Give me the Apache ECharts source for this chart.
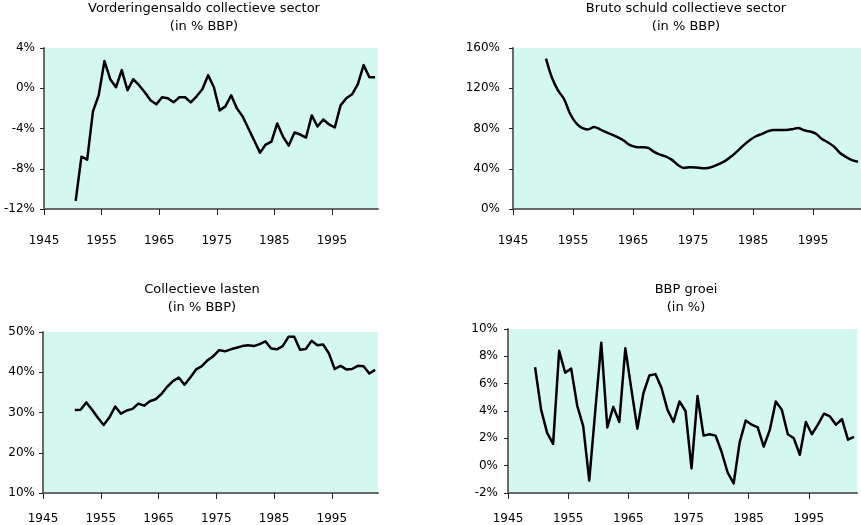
<!DOCTYPE html>
<html><head><meta charset="utf-8">
<script src="https://cdn.jsdelivr.net/npm/echarts@6/dist/echarts.min.js"></script>
<style>html,body{margin:0;padding:0;background:#fff}#c{width:861px;height:525px}</style>
</head><body><div id="c"></div>
<script>
// ---- data ----
const years1950 = [1950,1951,1952,1953,1954,1955,1956,1957,1958,1959,
  1960,1961,1962,1963,1964,1965,1966,1967,1968,1969,
  1970,1971,1972,1973,1974,1975,1976,1977,1978,1979,
  1980,1981,1982,1983,1984,1985,1986,1987,1988,1989,
  1990,1991,1992,1993,1994,1995,1996,1997,1998,1999,
  2000,2001,2002];
const years1949 = [1949,1950,1951,1952,1953,1954,1955,1956,1957,1958,1959,
  1960,1961,1962,1963,1964,1965,1966,1967,1968,1969,
  1970,1971,1972,1973,1974,1975,1976,1977,1978,1979,
  1980,1981,1982,1983,1984,1985,1986,1987,1988,1989,
  1990,1991,1992,1993,1994,1995,1996,1997,1998,1999,
  2000,2001,2002];
const xTickLabels = [1945,1955,1965,1975,1985,1995];

const vorderingensaldo = [-11.2,-6.8,-7.1,-2.3,-0.7,2.7,0.9,0.1,1.8,-0.2,
  0.9,0.3,-0.4,-1.2,-1.6,-0.9,-1.0,-1.4,-0.9,-0.9,
  -1.4,-0.8,-0.1,1.3,0.1,-2.2,-1.8,-0.7,-2.0,-2.8,
  -4.0,-5.2,-6.4,-5.6,-5.3,-3.5,-4.8,-5.7,-4.4,-4.6,
  -4.9,-2.7,-3.8,-3.1,-3.6,-3.9,-1.7,-1.0,-0.6,0.4,
  2.3,1.1,1.1];
const brutoSchuld = [149.5,130.4,117.8,109.3,94.9,85.4,80.6,79.1,81.4,79.2,
  76.4,74.0,71.2,67.8,63.4,61.7,61.4,60.8,56.7,54.1,
  52.1,48.8,43.7,40.8,41.5,41.3,40.6,40.8,42.6,45.1,
  48.3,52.8,58.0,63.7,68.6,72.3,74.7,77.3,78.5,78.5,
  78.5,79.2,80.6,78.2,77.0,74.8,69.6,66.1,62.0,55.7,
  51.7,48.6,47.0];
const collectieveLasten = [30.6,30.7,32.5,30.7,28.7,26.9,28.8,31.5,29.7,30.5,
  30.9,32.2,31.7,32.8,33.3,34.6,36.4,37.8,38.7,36.9,
  38.7,40.7,41.5,43.0,44.0,45.5,45.2,45.7,46.1,46.5,
  46.7,46.5,47.0,47.7,45.9,45.7,46.5,48.8,48.8,45.6,
  45.8,47.8,46.7,46.9,44.7,40.8,41.6,40.7,40.8,41.6,
  41.5,39.7,40.6];
const bbpGroei = [7.2,4.1,2.4,1.6,8.4,6.8,7.1,4.4,2.9,-1.1,
  4.0,9.0,2.8,4.3,3.2,8.6,5.6,2.7,5.3,6.6,
  6.7,5.7,4.1,3.2,4.7,4.0,-0.2,5.1,2.2,2.3,
  2.2,1.0,-0.5,-1.3,1.7,3.3,3.0,2.8,1.4,2.6,
  4.7,4.1,2.3,2.0,0.8,3.2,2.3,3.0,3.8,3.6,
  3.0,3.4,1.9,2.1];

const titles = [
  'Vorderingensaldo collectieve sector\n(in % BBP)',
  'Bruto schuld collectieve sector\n(in % BBP)',
  'Collectieve lasten\n(in % BBP)',
  'BBP groei\n(in %)'
];

// ---- layout / style ----
const FONT = 'DejaVu Sans';
const PLOT_BG = '#d4f8f0';
const AXIS_COLOR = '#6a6a6a';
const TICK_COLOR = '#222222';

function pairs(years, vals) { return years.map((y, i) => [y + 0.5, vals[i]]); }

const panels = [
  { grid: { left: 44, top: 48, width: 334, height: 161 }, y: [-12, 4, 4], data: pairs(years1950, vorderingensaldo), smooth: false, title: { x: 204, y: 0 }, yMargin: 9, xMargin: 26 },
  { grid: { left: 513, top: 48, width: 353, height: 161 }, y: [0, 160, 40], data: pairs(years1950, brutoSchuld), smooth: 0.35, title: { x: 686, y: 0 }, yMargin: 13, xMargin: 26 },
  { grid: { left: 43, top: 332, width: 335, height: 162 }, y: [10, 50, 10], data: pairs(years1950, collectieveLasten), smooth: false, title: { x: 202, y: 281 }, yMargin: 8, xMargin: 20 },
  { grid: { left: 508, top: 329, width: 349, height: 165 }, y: [-2, 10, 2], data: pairs(years1949, bbpGroei), smooth: false, title: { x: 686, y: 281 }, yMargin: 10, xMargin: 20 }
];

const option = {
  backgroundColor: '#ffffff',
  animation: false,
  title: panels.map((p, i) => ({
    text: titles[i], left: p.title.x, top: p.title.y, textAlign: 'center', padding: 0,
    textStyle: { fontFamily: FONT, fontSize: 13, fontWeight: 'normal', color: '#000', lineHeight: 18 }
  })),
  grid: panels.map(p => Object.assign({ show: true, backgroundColor: PLOT_BG, borderWidth: 0 }, p.grid)),
  xAxis: panels.map((p, i) => ({
    type: 'value', gridIndex: i, min: 1945, max: 2003, interval: 10,
    axisLine: { show: true, onZero: false, lineStyle: { color: AXIS_COLOR, width: 2 } },
    axisTick: { show: true, length: 6, customValues: xTickLabels, lineStyle: { color: TICK_COLOR, width: 1 } },
    axisLabel: { show: true, margin: p.xMargin, customValues: xTickLabels, fontFamily: FONT, fontSize: 12, color: '#000', formatter: v => String(v) },
    splitLine: { show: false }
  })),
  yAxis: panels.map((p, i) => ({
    type: 'value', gridIndex: i, min: p.y[0], max: p.y[1], interval: p.y[2],
    axisLine: { show: true, lineStyle: { color: AXIS_COLOR, width: 2 } },
    axisTick: { show: true, length: 4, lineStyle: { color: TICK_COLOR, width: 1 } },
    axisLabel: { margin: p.yMargin, fontFamily: FONT, fontSize: 12, color: '#000', formatter: v => v + '%' },
    splitLine: { show: false }
  })),
  series: panels.map((p, i) => ({
    type: 'line', xAxisIndex: i, yAxisIndex: i, data: p.data, smooth: p.smooth,
    showSymbol: false, symbol: 'none', clip: true,
    lineStyle: { color: '#000', width: 2.5, join: 'round' }
  }))
};

const chart = echarts.init(document.getElementById('c'), null, { renderer: 'canvas' });
chart.setOption(option);
</script>
</body></html>
